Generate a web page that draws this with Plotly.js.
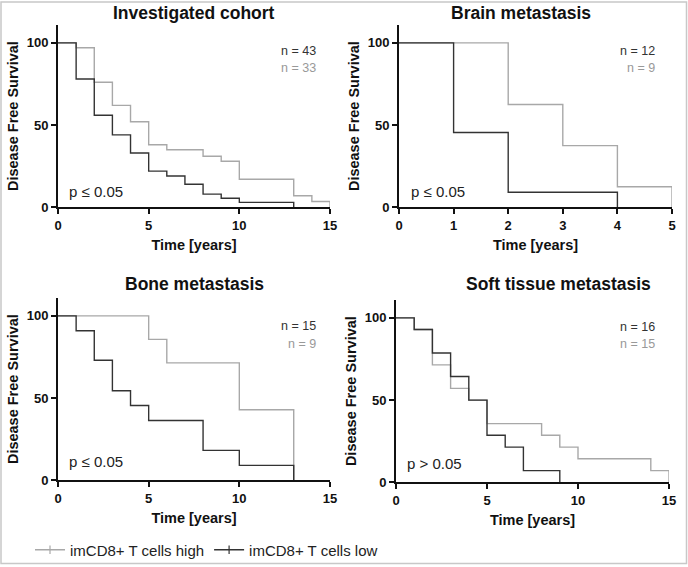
<!DOCTYPE html>
<html>
<head>
<meta charset="utf-8">
<script src="https://cdn.plot.ly/plotly-3.0.1.min.js"></script>
<style>
html,body{margin:0;padding:0;background:#fff;}
#chart{width:688px;height:567px;}
</style>
</head>
<body>
<div id="chart"></div>
<script>
// ---- data (Kaplan-Meier steps: time in years, survival in %) ----
var panelTitles = ["Investigated cohort", "Brain metastasis", "Bone metastasis", "Soft tissue metastasis"];
var nLow = ["n = 43", "n = 12", "n = 15", "n = 16"];
var nHigh = ["n = 33", "n = 9", "n = 9", "n = 15"];
var pLabels = ["p \u2264 0.05", "p \u2264 0.05", "p \u2264 0.05", "p > 0.05"];
var seriesNames = ["imCD8+ T cells high", "imCD8+ T cells low"];

var cohortHighT = [0, 1, 2, 3, 4, 5, 6, 8, 9, 10, 13, 14, 15];
var cohortHighS = [100, 97, 76, 62, 52, 38, 35, 31, 28, 17, 7, 3.5, 0];
var cohortLowT = [0, 1, 2, 3, 4, 5, 6, 7, 8, 9, 10, 13];
var cohortLowS = [100, 78, 56, 44, 33, 22, 19, 14, 8, 5.5, 3, 0];

var brainHighT = [0, 2, 3, 4, 5];
var brainHighS = [100, 62.5, 37.5, 12.5, 0];
var brainLowT = [0, 1, 2, 4];
var brainLowS = [100, 45.5, 9.1, 0];

var boneHighT = [0, 5, 6, 10, 13];
var boneHighS = [100, 85.7, 71.4, 42.9, 0];
var boneLowT = [0, 1, 2, 3, 4, 5, 8, 10, 13];
var boneLowS = [100, 91, 73, 54.5, 45.5, 36.4, 18.2, 9.1, 0];

var softHighT = [0, 1, 2, 3, 4, 5, 8, 9, 10, 14, 15];
var softHighS = [100, 92.9, 71.4, 57.1, 50, 35.7, 28.6, 21.4, 14.3, 7.1, 0];
var softLowT = [0, 1, 2, 3, 4, 5, 6, 7, 9];
var softLowS = [100, 92.9, 78.6, 64.3, 50, 28.6, 21.4, 7.1, 0];

var xMax = [15, 5, 15, 15];
var xTicks = [[0, 5, 10, 15], [0, 1, 2, 3, 4, 5], [0, 5, 10, 15], [0, 5, 10, 15]];
var yTicks = [0, 50, 100];

// ---- styling ----
var W = 688, H = 567;
function px(x) { return x / W; }
function py(y) { return 1 - y / H; }
var FONT = "Liberation Sans, Arial, Helvetica, sans-serif";
var HIGH_COLOR = "#a8a8a8";
var LOW_COLOR = "#333333";

// panel pixel boxes: [left, right, top, bottom]
var boxes = [
  [58, 330, 25, 208],
  [399, 672, 25, 208],
  [58, 330, 299, 482],
  [396, 669, 301, 484]
];

var highT = [cohortHighT, brainHighT, boneHighT, softHighT];
var highS = [cohortHighS, brainHighS, boneHighS, softHighS];
var lowT = [cohortLowT, brainLowT, boneLowT, softLowT];
var lowS = [cohortLowS, brainLowS, boneLowS, softLowS];

var data = [];
var layout = {
  width: W, height: H,
  margin: {l: 0, r: 0, t: 0, b: 0},
  paper_bgcolor: "#fff",
  plot_bgcolor: "rgba(0,0,0,0)",
  font: {family: FONT, color: "#111"},
  showlegend: true,
  legend: {
    orientation: "h",
    x: px(30), xanchor: "left",
    y: py(552), yanchor: "middle",
    font: {family: FONT, size: 15, color: "#222"},
    bgcolor: "rgba(0,0,0,0)",
    itemwidth: 30,
    tracegroupgap: 0
  },
  annotations: [],
  shapes: [{
    type: "rect", xref: "paper", yref: "paper",
    x0: px(1), x1: px(686.5), y0: py(565.5), y1: py(2),
    line: {color: "#c8c8c8", width: 1.5}
  }]
};

for (var i = 0; i < 4; i++) {
  var ax = i === 0 ? "" : String(i + 1);
  var b = boxes[i];
  var ymax = 100 * (b[3] - b[2]) / 165;
  data.push({
    type: "scatter", mode: "lines", x: highT[i], y: highS[i],
    xaxis: "x" + ax, yaxis: "y" + ax,
    line: {shape: "hv", color: HIGH_COLOR, width: 1.4},
    showlegend: false, hoverinfo: "skip", cliponaxis: false
  });
  data.push({
    type: "scatter", mode: "lines", x: lowT[i], y: lowS[i],
    xaxis: "x" + ax, yaxis: "y" + ax,
    line: {shape: "hv", color: LOW_COLOR, width: 1.4},
    showlegend: false, hoverinfo: "skip", cliponaxis: false
  });
  layout["xaxis" + ax] = {
    domain: [px(b[0]), px(b[1])],
    anchor: "y" + ax,
    range: [0, xMax[i]],
    tickvals: xTicks[i],
    ticks: "outside", ticklen: 5, tickwidth: 2, tickcolor: "#111",
    showline: true, linecolor: "#111", linewidth: 2,
    showgrid: false, zeroline: false, fixedrange: true,
    tickfont: {family: FONT, size: 13, weight: "bold", color: "#111"},
    title: {text: "Time [years]", standoff: 8,
            font: {family: FONT, size: 14.5, weight: "bold", color: "#111"}}
  };
  layout["yaxis" + ax] = {
    domain: [py(b[3]), py(b[2])],
    anchor: "x" + ax,
    range: [0, ymax],
    tickvals: yTicks,
    ticks: "outside", ticklen: 5, tickwidth: 2, tickcolor: "#111",
    showline: true, linecolor: "#111", linewidth: 2,
    showgrid: false, zeroline: false, fixedrange: true,
    tickfont: {family: FONT, size: 13, weight: "bold", color: "#111"},
    title: {text: "Disease Free Survival", standoff: 5,
            font: {family: FONT, size: 14.5, weight: "bold", color: "#111"}}
  };
}

// panel titles and labels
var titlePos = [[194, 13], [521, 13], [194, 285], [558, 285]];
var nPos = [[318, 51, 68], [657, 51, 68], [318, 327, 345], [657, 328, 345]];
var pPos = [[67, 192], [409, 192], [67, 463], [405, 465]];
for (var j = 0; j < 4; j++) {
  layout.annotations.push({
    xref: "paper", yref: "paper", x: px(titlePos[j][0]), y: py(titlePos[j][1]),
    xanchor: "center", yanchor: "middle", showarrow: false,
    text: panelTitles[j],
    font: {family: FONT, size: 17.5, weight: "bold", color: "#111"}
  });
  layout.annotations.push({
    xref: "paper", yref: "paper", x: px(nPos[j][0]), y: py(nPos[j][1]),
    xanchor: "right", yanchor: "middle", showarrow: false,
    text: nLow[j], font: {family: FONT, size: 12.5, color: "#333"}
  });
  layout.annotations.push({
    xref: "paper", yref: "paper", x: px(nPos[j][0]), y: py(nPos[j][2]),
    xanchor: "right", yanchor: "middle", showarrow: false,
    text: nHigh[j], font: {family: FONT, size: 12.5, color: "#999"}
  });
  layout.annotations.push({
    xref: "paper", yref: "paper", x: px(pPos[j][0]), y: py(pPos[j][1]),
    xanchor: "left", yanchor: "middle", showarrow: false,
    text: pLabels[j], font: {family: FONT, size: 15, color: "#222"}
  });
}

// legend entries
data.push({
  type: "scatter", mode: "lines+markers", x: [null], y: [null],
  name: seriesNames[0], xaxis: "x", yaxis: "y",
  line: {color: HIGH_COLOR, width: 1.4},
  marker: {symbol: "line-ns-open", size: 6, color: HIGH_COLOR, line: {width: 1.2, color: HIGH_COLOR}}
});
data.push({
  type: "scatter", mode: "lines+markers", x: [null], y: [null],
  name: seriesNames[1], xaxis: "x", yaxis: "y",
  line: {color: LOW_COLOR, width: 1.4},
  marker: {symbol: "line-ns-open", size: 6, color: LOW_COLOR, line: {width: 1.2, color: LOW_COLOR}}
});

Plotly.newPlot("chart", data, layout, {staticPlot: true, displayModeBar: false});
</script>
</body>
</html>
